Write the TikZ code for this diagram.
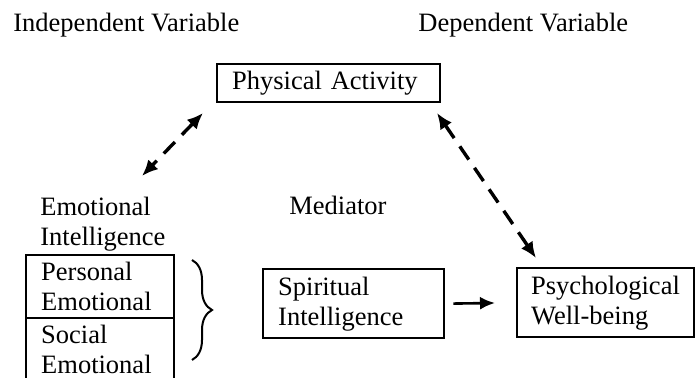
\documentclass[tikz,border=0pt]{standalone}
\usepackage{fontspec}
\setmainfont{Liberation Serif}
\usetikzlibrary{arrows.meta,decorations.pathreplacing}

\tikzset{
	varbox/.style={draw, line width=1.2pt, anchor=north west, align=left, inner xsep=7.5pt, inner ysep=0pt},
	varlabel/.style={inner sep=0pt, align=left},
	dasharrow/.style={line width=1.7pt, dash pattern=on 8pt off 5pt, {Latex[length=8pt,width=7pt]}-{Latex[length=8pt,width=7pt]}},
	solidarrow/.style={line width=1.3pt, -{Latex[length=7.5pt,width=6.5pt]}}
}

\begin{document}
\begin{tikzpicture}[x=0.5pt, y=-0.5pt, font=\fontsize{13.25}{15}\selectfont]
			%%%%% START %%%%%
			\useasboundingbox (0, 0) rectangle (698, 378);
			\clip (0, 0) rectangle (698, 378);
			
			\node[varlabel, anchor=base west] (indep) at (13, 32) {Independent Variable};
			\node[varlabel, anchor=base west] (dep) at (418, 32) {Dependent Variable};
			
			\node[varbox, text width=96.5pt, minimum height=19pt] (pa) at (216, 63) {Physical Activity};
			
			\node[varlabel, anchor=west] (ei) at (40, 224) {Emotional\\Intelligence};
			\node[varlabel, anchor=base west] (med) at (289, 215) {Mediator};
			
			\node[varbox, text width=59pt, minimum height=31.5pt] (pe) at (25, 254) {Personal\\Emotional};
			\node[varbox, text width=59pt, minimum height=31.5pt] (se) at (25, 317) {Social\\Emotional};
			
			\draw[line width=1pt, decorate, decoration={brace, amplitude=10pt}] (192, 260) -- (192, 360);
			
			\node[varbox, text width=75.5pt, minimum height=34.5pt] (si) at (262, 268) {Spiritual\\Intelligence};
			\node[varbox, text width=74.5pt, inner xsep=7pt, minimum height=34.5pt] (pw) at (516, 267) {Psychological\\Well-being};
			
			%%%%% ARROWS %%%%%
			\coordinate (pa-left) at (203, 113);
			\coordinate (ei-top) at (142, 176);
			\coordinate (pa-right) at (437, 113);
			\coordinate (pw-top) at (536, 258);
			
			\draw[dasharrow] (pa-left) -- (ei-top);
			\draw[dasharrow] (pa-right) -- (pw-top);
			\draw[solidarrow, shorten <=4pt, shorten >=10.5pt] (si.east) -- (pw.west);
			
			%%%%% END %%%%%
\end{tikzpicture}
\end{document}
